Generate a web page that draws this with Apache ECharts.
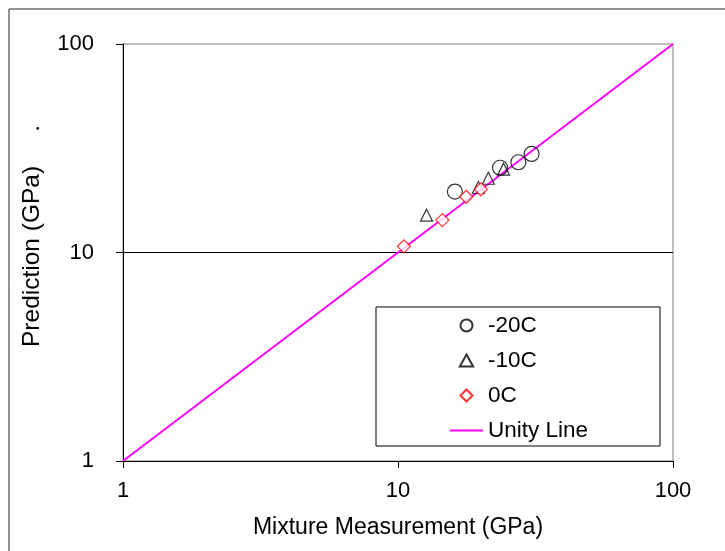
<!DOCTYPE html>
<html>
<head>
<meta charset="utf-8">
<script src="https://cdn.jsdelivr.net/npm/echarts@6/dist/echarts.min.js"></script>
<style>
html,body{margin:0;padding:0;background:#fff;}
#chart{width:725px;height:551px;}
</style>
</head>
<body>
<div id="chart"></div>
<script>
var seriesNames = ['-20C', '-10C', '0C', 'Unity Line'];
var minus20X = [16.1, 23.5, 27.4, 30.6];
var minus20Y = [19.6, 25.5, 27.1, 29.7];
var minus10X = [12.7, 19.6, 21.3, 24.2];
var minus10Y = [15.1, 20.5, 22.7, 25.1];
var zeroX = [10.5, 14.5, 17.7, 20.0];
var zeroY = [10.7, 14.3, 18.5, 20.1];
var unityX = [1, 100];
var unityY = [1, 100];
var xTitle = 'Mixture Measurement (GPa)';
var yTitle = 'Prediction (GPa)     .';

function pairs(xs, ys) {
  return xs.map(function (x, i) { return [x, ys[i]]; });
}

var font = 'Liberation Sans, Arial, sans-serif';
var chart = echarts.init(document.getElementById('chart'), null, {renderer: 'canvas'});
chart.setOption({
  animation: false,
  backgroundColor: '#fff',
  grid: {left: 123, right: 52, top: 44, bottom: 90, show: true, borderColor: '#808080', borderWidth: 1},
  graphic: [
    {type: 'rect', shape: {x: 9, y: 9, width: 900, height: 700}, style: {fill: 'none', stroke: '#222', lineWidth: 1}, z: -1},
    {type: 'rect', shape: {x: 376, y: 307, width: 284, height: 139}, style: {fill: '#fff', stroke: '#000', lineWidth: 1}, z: 5}
  ],
  legend: {
    data: [
      {name: seriesNames[0], icon: 'path://M0,6.5 A6.5,6.5 0 1 1 13,6.5 A6.5,6.5 0 1 1 0,6.5 Z'},
      {name: seriesNames[1], icon: 'path://M5,0 L10,9 L0,9 Z'},
      {name: seriesNames[2], icon: 'path://M5,0 L10,5 L5,10 L0,5 Z'},
      {name: seriesNames[3], icon: 'path://M0,0 L33,0 L33,2 L0,2 Z', itemStyle: {color: '#FF00FF', borderWidth: 0}}
    ],
    orient: 'vertical',
    left: 450,
    top: 314,
    itemWidth: 33,
    itemHeight: 12,
    itemGap: 12,
    padding: 0,
    symbolKeepAspect: true,
    z: 10,
    textStyle: {fontFamily: font, fontSize: 22.5, color: '#000'}
  },
  xAxis: {
    type: 'log', logBase: 10, min: 1, max: 100,
    name: xTitle, nameLocation: 'middle', nameGap: 55,
    nameTextStyle: {fontFamily: font, fontSize: 23, color: '#000'},
    axisLine: {lineStyle: {color: '#000', width: 1}},
    axisTick: {show: true, inside: false, length: 7, lineStyle: {color: '#000'}},
    axisLabel: {fontFamily: font, fontSize: 22, color: '#000', margin: 19},
    splitLine: {show: false},
    minorTick: {show: false}
  },
  yAxis: {
    type: 'log', logBase: 10, min: 1, max: 100,
    name: yTitle, nameLocation: 'middle', nameGap: 78, nameRotate: 90,
    nameTextStyle: {fontFamily: font, fontSize: 24.5, color: '#000', padding: [0, 0, 0, 33]},
    axisLine: {lineStyle: {color: '#000', width: 1}},
    axisTick: {show: true, inside: false, length: 7, lineStyle: {color: '#000'}},
    axisLabel: {fontFamily: font, fontSize: 22, color: '#000', margin: 29},
    splitLine: {show: true, showMinLine: false, showMaxLine: false, lineStyle: {color: '#000', width: 1}}
  },
  series: [
    {
      name: seriesNames[3], type: 'line', data: pairs(unityX, unityY),
      showSymbol: false, symbol: 'none', lineStyle: {color: '#FF00FF', width: 2}, itemStyle: {color: '#FF00FF'}, z: 1
    },
    {
      name: seriesNames[0], type: 'scatter', data: pairs(minus20X, minus20Y),
      symbol: 'circle', symbolSize: 15,
      itemStyle: {color: 'rgba(255,255,255,0)', borderColor: '#000', borderWidth: 1.2}, z: 2
    },
    {
      name: seriesNames[1], type: 'scatter', data: pairs(minus10X, minus10Y),
      symbol: 'triangle', symbolSize: 12,
      itemStyle: {color: 'rgba(255,255,255,0)', borderColor: '#000', borderWidth: 1.2}, z: 3
    },
    {
      name: seriesNames[2], type: 'scatter', data: pairs(zeroX, zeroY),
      symbol: 'diamond', symbolSize: 13,
      itemStyle: {color: '#fff', borderColor: '#FF0000', borderWidth: 1.2}, z: 4
    }
  ]
});
</script>
</body>
</html>
